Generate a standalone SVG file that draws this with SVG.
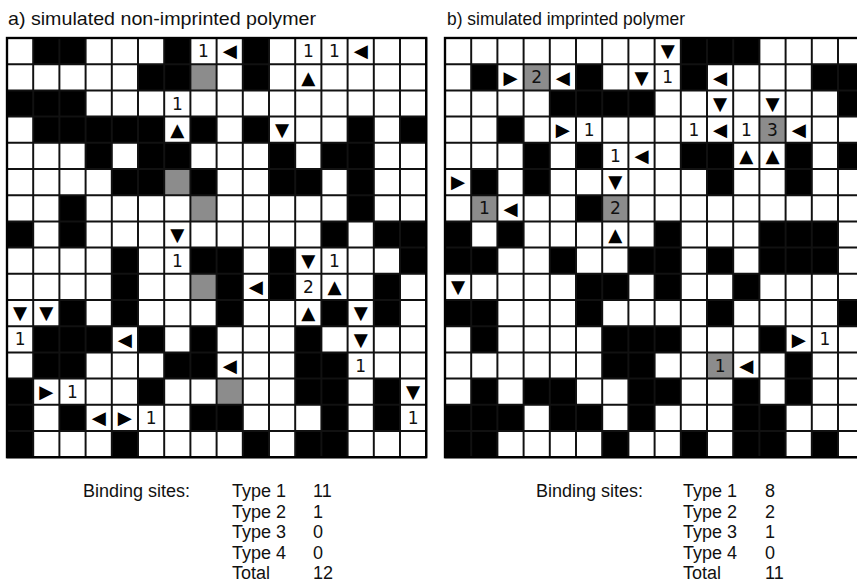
<svg xmlns="http://www.w3.org/2000/svg" xmlns:xlink="http://www.w3.org/1999/xlink" width="857" height="585" viewBox="0 0 857 585">
<style>
.lbl{font-family:"Liberation Sans",Arial,sans-serif;font-size:18px;fill:#111}
.ttl{font-family:"Liberation Sans",Arial,sans-serif;font-size:19px;fill:#111}
.d{font-family:"DejaVu Sans",sans-serif;font-size:13px;text-anchor:middle;fill:#111}
.t{font-family:"DejaVu Sans",sans-serif;font-size:14px;text-anchor:middle;fill:#000}
.gl{fill:none;stroke:#111;stroke-width:1.5}
.bd{fill:none;stroke:#000;stroke-width:1.8}
</style>
<defs>
<rect id="k" width="20" height="20" fill="#000"/>
<rect id="g" width="20" height="20" fill="#8c8c8c"/>
<path id="lines" d="M0 0H320M0 20H320M0 40H320M0 60H320M0 80H320M0 100H320M0 120H320M0 140H320M0 160H320M0 180H320M0 200H320M0 220H320M0 240H320M0 260H320M0 280H320M0 300H320M0 320H320M0 0V320M20 0V320M40 0V320M60 0V320M80 0V320M100 0V320M120 0V320M140 0V320M160 0V320M180 0V320M200 0V320M220 0V320M240 0V320M260 0V320M280 0V320M300 0V320M320 0V320"/>
</defs>
<rect width="857" height="585" fill="#fff"/>
<text class="ttl" x="8" y="25" textLength="308" lengthAdjust="spacingAndGlyphs">a) simulated non-imprinted polymer</text>
<text class="ttl" x="447" y="25" textLength="238" lengthAdjust="spacingAndGlyphs">b) simulated imprinted polymer</text>

<g id="gridA" transform="translate(7,38) scale(1.31)">
<rect width="320" height="320" fill="#fff"/>
<g id="gridA-cells">
<use href="#k" x="20" y="0"/><use href="#k" x="40" y="0"/><use href="#k" x="120" y="0"/><use href="#k" x="180" y="0"/>
<use href="#k" x="100" y="20"/><use href="#k" x="120" y="20"/><use href="#k" x="180" y="20"/><use href="#g" x="140" y="20"/>
<use href="#k" x="0" y="40"/><use href="#k" x="20" y="40"/><use href="#k" x="40" y="40"/>
<use href="#k" x="20" y="60"/><use href="#k" x="40" y="60"/><use href="#k" x="60" y="60"/><use href="#k" x="80" y="60"/><use href="#k" x="100" y="60"/><use href="#k" x="140" y="60"/><use href="#k" x="180" y="60"/><use href="#k" x="260" y="60"/><use href="#k" x="300" y="60"/>
<use href="#k" x="60" y="80"/><use href="#k" x="100" y="80"/><use href="#k" x="120" y="80"/><use href="#k" x="200" y="80"/><use href="#k" x="240" y="80"/><use href="#k" x="260" y="80"/>
<use href="#k" x="80" y="100"/><use href="#k" x="100" y="100"/><use href="#k" x="140" y="100"/><use href="#k" x="200" y="100"/><use href="#k" x="220" y="100"/><use href="#k" x="260" y="100"/><use href="#g" x="120" y="100"/>
<use href="#k" x="40" y="120"/><use href="#k" x="260" y="120"/><use href="#g" x="140" y="120"/>
<use href="#k" x="0" y="140"/><use href="#k" x="40" y="140"/><use href="#k" x="240" y="140"/><use href="#k" x="280" y="140"/><use href="#k" x="300" y="140"/>
<use href="#k" x="80" y="160"/><use href="#k" x="140" y="160"/><use href="#k" x="160" y="160"/><use href="#k" x="200" y="160"/><use href="#k" x="300" y="160"/>
<use href="#k" x="80" y="180"/><use href="#k" x="160" y="180"/><use href="#k" x="200" y="180"/><use href="#k" x="280" y="180"/><use href="#g" x="140" y="180"/>
<use href="#k" x="40" y="200"/><use href="#k" x="80" y="200"/><use href="#k" x="160" y="200"/><use href="#k" x="240" y="200"/><use href="#k" x="280" y="200"/>
<use href="#k" x="20" y="220"/><use href="#k" x="40" y="220"/><use href="#k" x="60" y="220"/><use href="#k" x="100" y="220"/><use href="#k" x="140" y="220"/><use href="#k" x="220" y="220"/>
<use href="#k" x="20" y="240"/><use href="#k" x="40" y="240"/><use href="#k" x="120" y="240"/><use href="#k" x="140" y="240"/><use href="#k" x="220" y="240"/><use href="#k" x="240" y="240"/>
<use href="#k" x="0" y="260"/><use href="#k" x="100" y="260"/><use href="#k" x="220" y="260"/><use href="#k" x="240" y="260"/><use href="#k" x="280" y="260"/><use href="#g" x="160" y="260"/>
<use href="#k" x="0" y="280"/><use href="#k" x="40" y="280"/><use href="#k" x="140" y="280"/><use href="#k" x="160" y="280"/><use href="#k" x="240" y="280"/><use href="#k" x="280" y="280"/>
<use href="#k" x="0" y="300"/><use href="#k" x="80" y="300"/><use href="#k" x="180" y="300"/><use href="#k" x="220" y="300"/><use href="#k" x="240" y="300"/>
</g>
<use href="#lines" class="gl"/>
<rect class="bd" width="320" height="320"/>
<g id="gridA-marks">
<text class="d" x="150" y="14.7">1</text><text class="t" x="170" y="14.8">◀</text><text class="d" x="230" y="14.7">1</text><text class="d" x="250" y="14.7">1</text><text class="t" x="270" y="14.8">◀</text>
<text class="t" x="230" y="34.8">▲</text>
<text class="d" x="130" y="54.7">1</text>
<text class="t" x="130" y="74.8">▲</text><text class="t" x="210" y="74.8">▼</text>
<text class="t" x="130" y="154.8">▼</text>
<text class="d" x="130" y="174.7">1</text><text class="t" x="230" y="174.8">▼</text><text class="d" x="250" y="174.7">1</text>
<text class="t" x="190" y="194.8">◀</text><text class="d" x="230" y="194.7">2</text><text class="t" x="250" y="194.8">▲</text>
<text class="t" x="10" y="214.8">▼</text><text class="t" x="30" y="214.8">▼</text><text class="t" x="230" y="214.8">▲</text><text class="t" x="270" y="214.8">▼</text>
<text class="d" x="10" y="234.7">1</text><text class="t" x="90" y="234.8">◀</text><text class="t" x="270" y="234.8">▼</text>
<text class="t" x="170" y="254.8">◀</text><text class="d" x="270" y="254.7">1</text>
<text class="t" x="30" y="274.8">▶</text><text class="d" x="50" y="274.7">1</text><text class="t" x="310" y="274.8">▼</text>
<text class="t" x="70" y="294.8">◀</text><text class="t" x="90" y="294.8">▶</text><text class="d" x="110" y="294.7">1</text><text class="d" x="310" y="294.7">1</text>
</g>
</g>

<g id="gridB" transform="translate(445,38) scale(1.31)">
<rect width="320" height="320" fill="#fff"/>
<g id="gridB-cells">
<use href="#k" x="180" y="0"/><use href="#k" x="200" y="0"/><use href="#k" x="220" y="0"/>
<use href="#k" x="20" y="20"/><use href="#k" x="100" y="20"/><use href="#k" x="180" y="20"/><use href="#k" x="280" y="20"/><use href="#k" x="300" y="20"/><use href="#g" x="60" y="20"/>
<use href="#k" x="80" y="40"/><use href="#k" x="100" y="40"/><use href="#k" x="120" y="40"/><use href="#k" x="140" y="40"/><use href="#k" x="300" y="40"/>
<use href="#k" x="40" y="60"/><use href="#g" x="240" y="60"/>
<use href="#k" x="60" y="80"/><use href="#k" x="100" y="80"/><use href="#k" x="180" y="80"/><use href="#k" x="200" y="80"/><use href="#k" x="260" y="80"/><use href="#k" x="300" y="80"/>
<use href="#k" x="20" y="100"/><use href="#k" x="60" y="100"/><use href="#k" x="200" y="100"/><use href="#k" x="260" y="100"/>
<use href="#k" x="100" y="120"/><use href="#g" x="20" y="120"/><use href="#g" x="120" y="120"/>
<use href="#k" x="0" y="140"/><use href="#k" x="40" y="140"/><use href="#k" x="160" y="140"/><use href="#k" x="240" y="140"/><use href="#k" x="260" y="140"/><use href="#k" x="280" y="140"/>
<use href="#k" x="0" y="160"/><use href="#k" x="20" y="160"/><use href="#k" x="80" y="160"/><use href="#k" x="140" y="160"/><use href="#k" x="160" y="160"/><use href="#k" x="200" y="160"/><use href="#k" x="240" y="160"/><use href="#k" x="260" y="160"/><use href="#k" x="280" y="160"/>
<use href="#k" x="100" y="180"/><use href="#k" x="120" y="180"/><use href="#k" x="160" y="180"/><use href="#k" x="220" y="180"/>
<use href="#k" x="0" y="200"/><use href="#k" x="20" y="200"/><use href="#k" x="100" y="200"/><use href="#k" x="200" y="200"/><use href="#k" x="300" y="200"/>
<use href="#k" x="20" y="220"/><use href="#k" x="120" y="220"/><use href="#k" x="140" y="220"/><use href="#k" x="160" y="220"/><use href="#k" x="240" y="220"/>
<use href="#k" x="120" y="240"/><use href="#k" x="140" y="240"/><use href="#k" x="260" y="240"/><use href="#g" x="200" y="240"/>
<use href="#k" x="20" y="260"/><use href="#k" x="60" y="260"/><use href="#k" x="80" y="260"/><use href="#k" x="140" y="260"/><use href="#k" x="160" y="260"/><use href="#k" x="220" y="260"/><use href="#k" x="260" y="260"/>
<use href="#k" x="0" y="280"/><use href="#k" x="20" y="280"/><use href="#k" x="40" y="280"/><use href="#k" x="80" y="280"/><use href="#k" x="100" y="280"/><use href="#k" x="140" y="280"/><use href="#k" x="220" y="280"/><use href="#k" x="240" y="280"/>
<use href="#k" x="0" y="300"/><use href="#k" x="20" y="300"/><use href="#k" x="120" y="300"/><use href="#k" x="180" y="300"/><use href="#k" x="220" y="300"/><use href="#k" x="240" y="300"/><use href="#k" x="280" y="300"/>
</g>
<use href="#lines" class="gl"/>
<rect class="bd" width="320" height="320"/>
<g id="gridB-marks">
<text class="t" x="170" y="14.8">▼</text>
<text class="t" x="50" y="34.8">▶</text><text class="d" x="70" y="34.7">2</text><text class="t" x="90" y="34.8">◀</text><text class="t" x="150" y="34.8">▼</text><text class="d" x="170" y="34.7">1</text><text class="t" x="210" y="34.8">◀</text>
<text class="t" x="210" y="54.8">▼</text><text class="t" x="250" y="54.8">▼</text>
<text class="t" x="90" y="74.8">▶</text><text class="d" x="110" y="74.7">1</text><text class="d" x="190" y="74.7">1</text><text class="t" x="210" y="74.8">◀</text><text class="d" x="230" y="74.7">1</text><text class="d" x="250" y="74.7">3</text><text class="t" x="270" y="74.8">◀</text>
<text class="d" x="130" y="94.7">1</text><text class="t" x="150" y="94.8">◀</text><text class="t" x="230" y="94.8">▲</text><text class="t" x="250" y="94.8">▲</text>
<text class="t" x="10" y="114.8">▶</text><text class="t" x="130" y="114.8">▼</text>
<text class="d" x="30" y="134.7">1</text><text class="t" x="50" y="134.8">◀</text><text class="d" x="130" y="134.7">2</text>
<text class="t" x="130" y="154.8">▲</text>
<text class="t" x="10" y="194.8">▼</text>
<text class="t" x="270" y="234.8">▶</text><text class="d" x="290" y="234.7">1</text>
<text class="d" x="210" y="254.7">1</text><text class="t" x="230" y="254.8">◀</text>
</g>
</g>

<g id="summaryA">
<text class="lbl" x="83" y="497">Binding sites:</text>
<text class="lbl" x="232" y="497">Type 1</text><text class="lbl" x="313" y="497">11</text>
<text class="lbl" x="232" y="518">Type 2</text><text class="lbl" x="313" y="518">1</text>
<text class="lbl" x="232" y="538">Type 3</text><text class="lbl" x="313" y="538">0</text>
<text class="lbl" x="232" y="559">Type 4</text><text class="lbl" x="313" y="559">0</text>
<text class="lbl" x="232" y="579">Total</text><text class="lbl" x="313" y="579">12</text>
</g>
<g id="summaryB">
<text class="lbl" x="536" y="497">Binding sites:</text>
<text class="lbl" x="683" y="497">Type 1</text><text class="lbl" x="765" y="497">8</text>
<text class="lbl" x="683" y="518">Type 2</text><text class="lbl" x="765" y="518">2</text>
<text class="lbl" x="683" y="538">Type 3</text><text class="lbl" x="765" y="538">1</text>
<text class="lbl" x="683" y="559">Type 4</text><text class="lbl" x="765" y="559">0</text>
<text class="lbl" x="683" y="579">Total</text><text class="lbl" x="765" y="579">11</text>
</g>
</svg>
